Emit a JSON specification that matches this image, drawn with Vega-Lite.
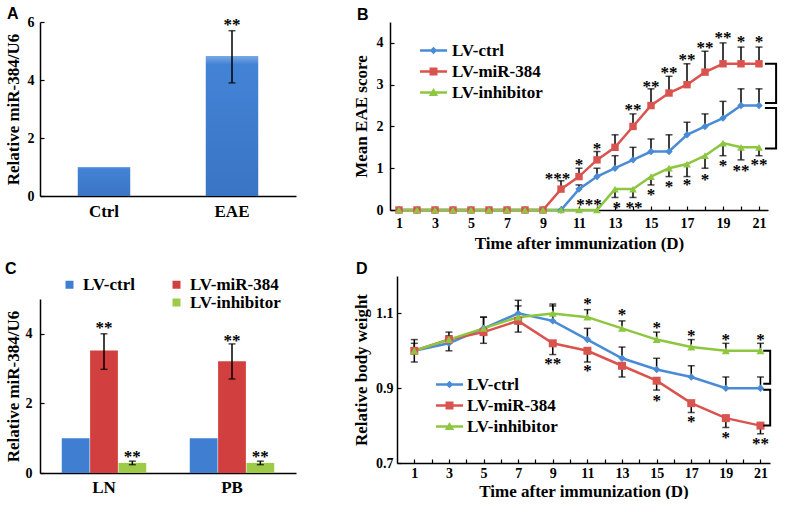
{
  "$schema": "https://vega.github.io/schema/vega-lite/v6.json",
  "background": "white",
  "padding": {"left": 4, "top": 6, "right": 0, "bottom": 0},
  "config": {
    "view": {"stroke": null},
    "font": "Liberation Serif",
    "axis": {"domainColor": "#000", "domainWidth": 1.5, "tickColor": "#000", "tickWidth": 1.2, "tickSize": -4, "labelFont": "Liberation Serif", "labelFontSize": 14, "labelFontWeight": "bold", "labelColor": "#000", "titleFont": "Liberation Serif", "titleFontSize": 17, "titleFontWeight": "bold", "titleColor": "#000", "grid": false, "labelFlush": false, "labelOverlap": false, "labelSeparation": -50},
    "legend": {"labelFont": "Liberation Serif", "labelFontSize": 17, "labelFontWeight": "bold", "labelColor": "#000", "padding": 0, "title": null},
    "title": {"font": "Liberation Sans", "fontSize": 16, "fontWeight": "bold", "color": "#000", "anchor": "start", "frame": "group"}
  },
  "columns": 2,
  "align": "none",
  "spacing": {"row": 10, "column": 56},
  "resolve": {"scale": {"color": "independent", "shape": "independent", "x": "independent", "y": "independent"}, "legend": {"color": "independent", "shape": "independent"}},
  "concat": [
    {
      "width": 256, "height": 174,
      "title": {"text": "A", "dx": -33, "offset": -7},
      "data": {"values": [
        {"group": "Ctrl", "value": 1.0, "lo": null, "hi": null, "star": null, "stary": null},
        {"group": "EAE", "value": 4.83, "lo": 3.9, "hi": 5.7, "star": "**", "stary": 6.0}
      ]},
      "encoding": {"x": {"field": "group", "type": "nominal", "sort": null, "scale": {"paddingInner": 0.59, "paddingOuter": 0.295}, "axis": {"title": null, "labelAngle": 0, "ticks": false, "labelFontSize": 17, "labelPadding": 7, "labelOverlap": false}}},
      "layer": [
        {"mark": {"type": "bar", "color": {"x1": 0, "y1": 0, "x2": 0, "y2": 1, "gradient": "linear", "stops": [{"offset": 0, "color": "#7aaae6"}, {"offset": 0.06, "color": "#4383d6"}, {"offset": 1, "color": "#3a74c4"}]}},
         "encoding": {"y": {"field": "value", "type": "quantitative", "scale": {"domain": [0, 6]}, "axis": {"title": "Relative miR-384/U6", "values": [0, 1, 2, 3, 4, 5, 6], "labelExpr": "datum.value % 2 == 0 ? datum.label : ''", "labelPadding": 10, "titlePadding": 5, "labelOverlap": false, "labelSeparation": -50}}}},
        {"transform": [{"filter": "datum.hi != null"}], "mark": {"type": "rule", "color": "#000", "strokeWidth": 1.5},
         "encoding": {"y": {"field": "lo", "type": "quantitative"}, "y2": {"field": "hi"}}},
        {"transform": [{"filter": "datum.hi != null"}], "mark": {"type": "tick", "orient": "horizontal", "color": "#000", "thickness": 1.5, "size": 7},
         "encoding": {"y": {"field": "lo", "type": "quantitative"}}},
        {"transform": [{"filter": "datum.hi != null"}], "mark": {"type": "tick", "orient": "horizontal", "color": "#000", "thickness": 1.5, "size": 7},
         "encoding": {"y": {"field": "hi", "type": "quantitative"}}},
        {"transform": [{"filter": "datum.star != null"}], "mark": {"type": "text", "font": "Liberation Serif", "fontSize": 17, "fontWeight": "bold", "baseline": "alphabetic", "dy": 8, "color": "#000"},
         "encoding": {"y": {"field": "stary", "type": "quantitative"}, "text": {"field": "star"}}}
      ]
    },
    {
      "width": 378, "height": 188,
      "title": {"text": "B", "dx": -33, "offset": -1},
      "encoding": {
        "x": {"field": "day", "type": "quantitative", "scale": {"domain": [0.5, 21.5], "nice": false}, "axis": {"title": "Time after immunization (D)", "values": [1,2,3,4,5,6,7,8,9,10,11,12,13,14,15,16,17,18,19,20,21], "labelExpr": "datum.value % 2 == 1 ? datum.label : ''", "labelPadding": 10, "titlePadding": 5, "labelOverlap": false, "labelSeparation": -50}}
      },
      "layer": [
        {
          "data": {"name": "B"},
          "mark": {"type": "line", "strokeWidth": 2.5},
          "encoding": {
            "y": {"field": "value", "type": "quantitative", "scale": {"domain": [0, 4.5], "nice": false}, "axis": {"title": "Mean EAE score", "values": [0,0.5,1,1.5,2,2.5,3,3.5,4,4.5], "labelExpr": "datum.value % 1 == 0 ? datum.label : ''", "labelPadding": 11, "titlePadding": 6, "labelOverlap": false, "labelSeparation": -50}},
            "color": {"field": "series", "type": "nominal", "scale": {"domain": ["LV-ctrl", "LV-miR-384", "LV-inhibitor"], "range": ["#4a8bd6", "#d9534f", "#8dc63f"]},
              "legend": {"orient": "none", "legendX": 35, "legendY": 20, "labelOffset": 10, "rowPadding": 3, "symbolSize": 289, "symbolOpacity": 1, "symbolStrokeWidth": 0}}
          }
        },
        {
          "data": {"name": "B"},
          "transform": [{"filter": "false"}],
          "mark": {"type": "point", "filled": true, "opacity": 1},
          "encoding": {
            "y": {"field": "value", "type": "quantitative"},
            "color": {"field": "series", "type": "nominal"},
            "shape": {"field": "series", "type": "nominal", "scale": {"domain": ["LV-ctrl", "LV-miR-384", "LV-inhibitor"], "range": ["M-1.59,-0.147H1.59V0.147H-1.59Z M0,-0.45L0.45,0L0,0.45L-0.45,0Z", "M-1.59,-0.147H1.59V0.147H-1.59Z M-0.47,-0.47H0.47V0.47H-0.47Z", "M-1.59,-0.147H1.59V0.147H-1.59Z M0,-0.52L0.55,0.42H-0.55Z"]}, "legend": null}
          }
        },
        {
          "data": {"name": "B"},
          "transform": [{"filter": "datum.err != null"}],
          "mark": {"type": "rule", "color": "#000", "strokeWidth": 1.5},
          "encoding": {"y": {"field": "value", "type": "quantitative"}, "y2": {"field": "err"}}
        },
        {
          "data": {"name": "B"},
          "transform": [{"filter": "datum.err != null"}],
          "mark": {"type": "tick", "orient": "horizontal", "color": "#000", "thickness": 1.5, "size": 7},
          "encoding": {"y": {"field": "err", "type": "quantitative"}}
        },
        {
          "data": {"name": "B"},
          "transform": [{"filter": "datum.series == 'LV-ctrl'"}],
          "mark": {"type": "point", "shape": "diamond", "filled": true, "opacity": 1, "size": 55, "color": "#4a8bd6"},
          "encoding": {"y": {"field": "value", "type": "quantitative"}}
        },
        {
          "data": {"name": "B"},
          "transform": [{"filter": "datum.series == 'LV-miR-384'"}],
          "mark": {"type": "point", "shape": "square", "filled": true, "opacity": 1, "size": 55, "color": "#d9534f"},
          "encoding": {"y": {"field": "value", "type": "quantitative"}}
        },
        {
          "data": {"name": "B"},
          "transform": [{"filter": "datum.series == 'LV-inhibitor'"}],
          "mark": {"type": "point", "shape": "triangle-up", "filled": true, "opacity": 1, "size": 60, "color": "#8dc63f"},
          "encoding": {"y": {"field": "value", "type": "quantitative"}}
        },
        {
          "data": {"name": "Bstars"},
          "mark": {"type": "text", "font": "Liberation Serif", "fontSize": 17, "fontWeight": "bold", "baseline": "alphabetic", "dy": 8, "color": "#000"},
          "encoding": {"x": {"field": "x", "type": "quantitative"}, "y": {"field": "y", "type": "quantitative"}, "text": {"field": "label"}}
        },
        {
          "data": {"name": "Bbr"},
          "mark": {"type": "line", "color": "#000", "strokeWidth": 2},
          "encoding": {"x": {"field": "x", "type": "quantitative"}, "y": {"field": "y", "type": "quantitative"}, "detail": {"field": "b"}, "order": {"field": "o"}}
        }
      ]
    },
    {
      "width": 256, "height": 174,
      "title": {"text": "C", "dx": -35, "offset": -1},
      "data": {"values": [
        {"group": "LN", "series": "LV-ctrl", "value": 1.0, "lo": null, "hi": null, "star": null, "stary": null},
        {"group": "LN", "series": "LV-miR-384", "value": 3.52, "lo": 2.98, "hi": 4.0, "star": "**", "stary": 4.24},
        {"group": "LN", "series": "LV-inhibitor", "value": 0.29, "lo": 0.24, "hi": 0.34, "star": "**", "stary": 0.55},
        {"group": "PB", "series": "LV-ctrl", "value": 1.0, "lo": null, "hi": null, "star": null, "stary": null},
        {"group": "PB", "series": "LV-miR-384", "value": 3.21, "lo": 2.7, "hi": 3.71, "star": "**", "stary": 3.88},
        {"group": "PB", "series": "LV-inhibitor", "value": 0.29, "lo": 0.24, "hi": 0.34, "star": "**", "stary": 0.55}
      ]},
      "encoding": {
        "x": {"field": "group", "type": "nominal", "sort": null, "scale": {"paddingInner": 0.34, "paddingOuter": 0.17}, "axis": {"title": null, "labelAngle": 0, "ticks": false, "labelFontSize": 17, "labelPadding": 6, "labelOverlap": false}},
        "xOffset": {"field": "series", "type": "nominal", "scale": {"domain": ["LV-ctrl", "LV-miR-384", "LV-inhibitor"], "paddingInner": 0.02}}
      },
      "layer": [
        {"mark": {"type": "bar"},
         "encoding": {
           "y": {"field": "value", "type": "quantitative", "scale": {"domain": [0, 5]}, "axis": {"title": "Relative miR-384/U6", "values": [0, 1, 2, 3, 4, 5], "labelExpr": "datum.value % 2 == 0 ? datum.label : ''", "labelPadding": 12, "titlePadding": 3, "labelOverlap": false, "labelSeparation": -50}},
           "color": {"field": "series", "type": "nominal", "scale": {"domain": ["LV-ctrl", " ", "LV-miR-384", "LV-inhibitor"], "range": ["#3f7ed1", "rgba(0,0,0,0)", "#d23f3f", "#9dcb48"]},
             "legend": {"orient": "none", "legendX": 21, "legendY": -23, "columns": 2, "columnPadding": 33, "rowPadding": 0, "symbolType": "square", "symbolSize": 64, "labelOffset": 5, "symbolStrokeWidth": 0}}
         }},
        {"transform": [{"filter": "datum.hi != null"}], "mark": {"type": "rule", "color": "#000", "strokeWidth": 1.5},
         "encoding": {"y": {"field": "lo", "type": "quantitative"}, "y2": {"field": "hi"}}},
        {"transform": [{"filter": "datum.hi != null"}], "mark": {"type": "tick", "orient": "horizontal", "color": "#000", "thickness": 1.5, "size": 7},
         "encoding": {"y": {"field": "lo", "type": "quantitative"}}},
        {"transform": [{"filter": "datum.hi != null"}], "mark": {"type": "tick", "orient": "horizontal", "color": "#000", "thickness": 1.5, "size": 7},
         "encoding": {"y": {"field": "hi", "type": "quantitative"}}},
        {"transform": [{"filter": "datum.star != null"}], "mark": {"type": "text", "font": "Liberation Serif", "fontSize": 17, "fontWeight": "bold", "baseline": "alphabetic", "dy": 8, "color": "#000"},
         "encoding": {"y": {"field": "stary", "type": "quantitative"}, "text": {"field": "star"}}}
      ]
    },
    {
      "width": 373, "height": 187,
      "title": {"text": "D", "dx": -41, "offset": -1},
      "encoding": {
        "x": {"field": "day", "type": "quantitative", "scale": {"domain": [0, 21.55], "nice": false}, "axis": {"title": "Time after immunization (D)", "values": [1,2,3,4,5,6,7,8,9,10,11,12,13,14,15,16,17,18,19,20,21], "labelExpr": "datum.value % 2 == 1 ? datum.label : ''", "labelPadding": 7, "titlePadding": 3, "labelOverlap": false, "labelSeparation": -50}}
      },
      "layer": [
        {
          "data": {"name": "D"},
          "mark": {"type": "line", "strokeWidth": 2.5},
          "encoding": {
            "y": {"field": "value", "type": "quantitative", "scale": {"domain": [0.7, 1.2], "nice": false, "zero": false}, "axis": {"title": "Relative body weight", "values": [0.7,0.75,0.8,0.85,0.9,0.95,1.0,1.05,1.1,1.15,1.2], "format": ".1f", "labelExpr": "abs(datum.value*10 - round(datum.value*10)) < 0.01 ? datum.label : ''", "labelPadding": 8, "titlePadding": 5, "labelOverlap": false, "labelSeparation": -50}},
            "color": {"field": "series", "type": "nominal", "scale": {"domain": ["LV-ctrl", "LV-miR-384", "LV-inhibitor"], "range": ["#4a8bd6", "#d9534f", "#8dc63f"]},
              "legend": {"orient": "none", "legendX": 44, "legendY": 100, "labelOffset": 9, "rowPadding": 3, "symbolSize": 289, "symbolOpacity": 1, "symbolStrokeWidth": 0}}
          }
        },
        {
          "data": {"name": "D"},
          "transform": [{"filter": "false"}],
          "mark": {"type": "point", "filled": true, "opacity": 1},
          "encoding": {
            "y": {"field": "value", "type": "quantitative"},
            "color": {"field": "series", "type": "nominal"},
            "shape": {"field": "series", "type": "nominal", "scale": {"domain": ["LV-ctrl", "LV-miR-384", "LV-inhibitor"], "range": ["M-1.59,-0.147H1.59V0.147H-1.59Z M0,-0.45L0.45,0L0,0.45L-0.45,0Z", "M-1.59,-0.147H1.59V0.147H-1.59Z M-0.47,-0.47H0.47V0.47H-0.47Z", "M-1.59,-0.147H1.59V0.147H-1.59Z M0,-0.52L0.55,0.42H-0.55Z"]}, "legend": null}
          }
        },
        {
          "data": {"name": "D"},
          "mark": {"type": "rule", "color": "#000", "strokeWidth": 1.5},
          "encoding": {"y": {"field": "value", "type": "quantitative"}, "y2": {"field": "err"}}
        },
        {
          "data": {"name": "D"},
          "mark": {"type": "tick", "orient": "horizontal", "color": "#000", "thickness": 1.5, "size": 7},
          "encoding": {"y": {"field": "err", "type": "quantitative"}}
        },
        {
          "data": {"name": "D"},
          "transform": [{"filter": "datum.series == 'LV-ctrl'"}],
          "mark": {"type": "point", "shape": "diamond", "filled": true, "opacity": 1, "size": 55, "color": "#4a8bd6"},
          "encoding": {"y": {"field": "value", "type": "quantitative"}}
        },
        {
          "data": {"name": "D"},
          "transform": [{"filter": "datum.series == 'LV-miR-384'"}],
          "mark": {"type": "point", "shape": "square", "filled": true, "opacity": 1, "size": 64, "color": "#d9534f"},
          "encoding": {"y": {"field": "value", "type": "quantitative"}}
        },
        {
          "data": {"name": "D"},
          "transform": [{"filter": "datum.series == 'LV-inhibitor'"}],
          "mark": {"type": "point", "shape": "triangle-up", "filled": true, "opacity": 1, "size": 64, "color": "#8dc63f"},
          "encoding": {"y": {"field": "value", "type": "quantitative"}}
        },
        {
          "data": {"name": "Dstars"},
          "mark": {"type": "text", "font": "Liberation Serif", "fontSize": 17, "fontWeight": "bold", "baseline": "alphabetic", "dy": 8, "color": "#000"},
          "encoding": {"x": {"field": "x", "type": "quantitative"}, "y": {"field": "y", "type": "quantitative"}, "text": {"field": "label"}}
        },
        {
          "data": {"name": "Dbr"},
          "mark": {"type": "line", "color": "#000", "strokeWidth": 2},
          "encoding": {"x": {"field": "x", "type": "quantitative"}, "y": {"field": "y", "type": "quantitative"}, "detail": {"field": "b"}, "order": {"field": "o"}}
        }
      ]
    }
  ],
  "datasets": {
    "B": [
      {"day": 1, "series": "LV-ctrl", "value": 0, "err": null}, {"day": 2, "series": "LV-ctrl", "value": 0, "err": null}, {"day": 3, "series": "LV-ctrl", "value": 0, "err": null}, {"day": 4, "series": "LV-ctrl", "value": 0, "err": null}, {"day": 5, "series": "LV-ctrl", "value": 0, "err": null}, {"day": 6, "series": "LV-ctrl", "value": 0, "err": null}, {"day": 7, "series": "LV-ctrl", "value": 0, "err": null}, {"day": 8, "series": "LV-ctrl", "value": 0, "err": null}, {"day": 9, "series": "LV-ctrl", "value": 0, "err": null}, {"day": 10, "series": "LV-ctrl", "value": 0, "err": null},
      {"day": 11, "series": "LV-ctrl", "value": 0.5, "err": 0.6}, {"day": 12, "series": "LV-ctrl", "value": 0.8, "err": 1.0}, {"day": 13, "series": "LV-ctrl", "value": 1.0, "err": 1.3}, {"day": 14, "series": "LV-ctrl", "value": 1.2, "err": 1.5}, {"day": 15, "series": "LV-ctrl", "value": 1.4, "err": 1.7}, {"day": 16, "series": "LV-ctrl", "value": 1.4, "err": 1.8}, {"day": 17, "series": "LV-ctrl", "value": 1.8, "err": 2.1}, {"day": 18, "series": "LV-ctrl", "value": 2.0, "err": 2.3}, {"day": 19, "series": "LV-ctrl", "value": 2.2, "err": 2.6}, {"day": 20, "series": "LV-ctrl", "value": 2.5, "err": 2.9}, {"day": 21, "series": "LV-ctrl", "value": 2.5, "err": 2.9},
      {"day": 1, "series": "LV-miR-384", "value": 0, "err": null}, {"day": 2, "series": "LV-miR-384", "value": 0, "err": null}, {"day": 3, "series": "LV-miR-384", "value": 0, "err": null}, {"day": 4, "series": "LV-miR-384", "value": 0, "err": null}, {"day": 5, "series": "LV-miR-384", "value": 0, "err": null}, {"day": 6, "series": "LV-miR-384", "value": 0, "err": null}, {"day": 7, "series": "LV-miR-384", "value": 0, "err": null}, {"day": 8, "series": "LV-miR-384", "value": 0, "err": null}, {"day": 9, "series": "LV-miR-384", "value": 0, "err": null},
      {"day": 10, "series": "LV-miR-384", "value": 0.5, "err": 0.7}, {"day": 11, "series": "LV-miR-384", "value": 0.8, "err": 1.0}, {"day": 12, "series": "LV-miR-384", "value": 1.2, "err": 1.4}, {"day": 13, "series": "LV-miR-384", "value": 1.5, "err": 1.8}, {"day": 14, "series": "LV-miR-384", "value": 2.0, "err": 2.3}, {"day": 15, "series": "LV-miR-384", "value": 2.5, "err": 2.9}, {"day": 16, "series": "LV-miR-384", "value": 2.8, "err": 3.2}, {"day": 17, "series": "LV-miR-384", "value": 3.0, "err": 3.5}, {"day": 18, "series": "LV-miR-384", "value": 3.3, "err": 3.8}, {"day": 19, "series": "LV-miR-384", "value": 3.5, "err": 4.0}, {"day": 20, "series": "LV-miR-384", "value": 3.5, "err": 3.9}, {"day": 21, "series": "LV-miR-384", "value": 3.5, "err": 3.9},
      {"day": 1, "series": "LV-inhibitor", "value": 0, "err": null}, {"day": 2, "series": "LV-inhibitor", "value": 0, "err": null}, {"day": 3, "series": "LV-inhibitor", "value": 0, "err": null}, {"day": 4, "series": "LV-inhibitor", "value": 0, "err": null}, {"day": 5, "series": "LV-inhibitor", "value": 0, "err": null}, {"day": 6, "series": "LV-inhibitor", "value": 0, "err": null}, {"day": 7, "series": "LV-inhibitor", "value": 0, "err": null}, {"day": 8, "series": "LV-inhibitor", "value": 0, "err": null}, {"day": 9, "series": "LV-inhibitor", "value": 0, "err": null}, {"day": 10, "series": "LV-inhibitor", "value": 0, "err": null}, {"day": 11, "series": "LV-inhibitor", "value": 0, "err": null}, {"day": 12, "series": "LV-inhibitor", "value": 0, "err": null},
      {"day": 13, "series": "LV-inhibitor", "value": 0.5, "err": 0.3}, {"day": 14, "series": "LV-inhibitor", "value": 0.5, "err": 0.3}, {"day": 15, "series": "LV-inhibitor", "value": 0.8, "err": 0.6}, {"day": 16, "series": "LV-inhibitor", "value": 1.0, "err": 0.8}, {"day": 17, "series": "LV-inhibitor", "value": 1.1, "err": 0.8}, {"day": 18, "series": "LV-inhibitor", "value": 1.3, "err": 1.0}, {"day": 19, "series": "LV-inhibitor", "value": 1.6, "err": 1.3}, {"day": 20, "series": "LV-inhibitor", "value": 1.5, "err": 1.2}, {"day": 21, "series": "LV-inhibitor", "value": 1.5, "err": 1.3}
    ],
    "Bstars": [
      {"x": 9.8, "y": 0.82, "label": "***"}, {"x": 11, "y": 1.14, "label": "*"}, {"x": 12, "y": 1.54, "label": "*"}, {"x": 14, "y": 2.46, "label": "**"}, {"x": 15, "y": 3.02, "label": "**"}, {"x": 16, "y": 3.34, "label": "**"}, {"x": 17, "y": 3.66, "label": "**"}, {"x": 18, "y": 3.94, "label": "**"}, {"x": 19, "y": 4.18, "label": "**"}, {"x": 20, "y": 4.1, "label": "*"}, {"x": 21, "y": 4.1, "label": "*"},
      {"x": 11.55, "y": 0.18, "label": "***"}, {"x": 13.1, "y": 0.13, "label": "*"}, {"x": 14.05, "y": 0.13, "label": "**"}, {"x": 15, "y": 0.42, "label": "*"}, {"x": 16, "y": 0.62, "label": "*"}, {"x": 17, "y": 0.66, "label": "*"}, {"x": 18, "y": 0.8, "label": "*"}, {"x": 19, "y": 1.12, "label": "*"}, {"x": 20, "y": 1.01, "label": "**"}, {"x": 21, "y": 1.14, "label": "**"}
    ],
    "Bbr": [
      {"b": 1, "o": 1, "x": 21.33, "y": 3.5}, {"b": 1, "o": 2, "x": 21.95, "y": 3.5}, {"b": 1, "o": 3, "x": 21.95, "y": 2.56}, {"b": 1, "o": 4, "x": 21.33, "y": 2.56},
      {"b": 2, "o": 1, "x": 21.33, "y": 2.44}, {"b": 2, "o": 2, "x": 21.95, "y": 2.44}, {"b": 2, "o": 3, "x": 21.95, "y": 1.47}, {"b": 2, "o": 4, "x": 21.33, "y": 1.47}
    ],
    "D": [
      {"day": 1, "series": "LV-ctrl", "value": 1.0, "err": 1.03}, {"day": 3, "series": "LV-ctrl", "value": 1.02, "err": 1.04}, {"day": 5, "series": "LV-ctrl", "value": 1.06, "err": 1.09}, {"day": 7, "series": "LV-ctrl", "value": 1.1, "err": 1.135}, {"day": 9, "series": "LV-ctrl", "value": 1.08, "err": 1.12}, {"day": 11, "series": "LV-ctrl", "value": 1.03, "err": 1.06}, {"day": 13, "series": "LV-ctrl", "value": 0.98, "err": 1.01}, {"day": 15, "series": "LV-ctrl", "value": 0.95, "err": 0.98}, {"day": 17, "series": "LV-ctrl", "value": 0.93, "err": 0.96}, {"day": 19, "series": "LV-ctrl", "value": 0.9, "err": 0.93}, {"day": 21, "series": "LV-ctrl", "value": 0.9, "err": 0.93},
      {"day": 1, "series": "LV-miR-384", "value": 1.0, "err": 0.97}, {"day": 3, "series": "LV-miR-384", "value": 1.03, "err": 1.0}, {"day": 5, "series": "LV-miR-384", "value": 1.05, "err": 1.02}, {"day": 7, "series": "LV-miR-384", "value": 1.08, "err": 1.05}, {"day": 9, "series": "LV-miR-384", "value": 1.02, "err": 0.99}, {"day": 11, "series": "LV-miR-384", "value": 1.0, "err": 0.97}, {"day": 13, "series": "LV-miR-384", "value": 0.96, "err": 0.93}, {"day": 15, "series": "LV-miR-384", "value": 0.92, "err": 0.895}, {"day": 17, "series": "LV-miR-384", "value": 0.86, "err": 0.835}, {"day": 19, "series": "LV-miR-384", "value": 0.82, "err": 0.795}, {"day": 21, "series": "LV-miR-384", "value": 0.8, "err": 0.778},
      {"day": 1, "series": "LV-inhibitor", "value": 1.0, "err": 1.02}, {"day": 3, "series": "LV-inhibitor", "value": 1.03, "err": 1.05}, {"day": 5, "series": "LV-inhibitor", "value": 1.06, "err": 1.09}, {"day": 7, "series": "LV-inhibitor", "value": 1.09, "err": 1.12}, {"day": 9, "series": "LV-inhibitor", "value": 1.1, "err": 1.125}, {"day": 11, "series": "LV-inhibitor", "value": 1.09, "err": 1.11}, {"day": 13, "series": "LV-inhibitor", "value": 1.06, "err": 1.08}, {"day": 15, "series": "LV-inhibitor", "value": 1.03, "err": 1.05}, {"day": 17, "series": "LV-inhibitor", "value": 1.01, "err": 1.03}, {"day": 19, "series": "LV-inhibitor", "value": 1.0, "err": 1.02}, {"day": 21, "series": "LV-inhibitor", "value": 1.0, "err": 1.02}
    ],
    "Dstars": [
      {"x": 11, "y": 1.133, "label": "*"}, {"x": 13, "y": 1.104, "label": "*"}, {"x": 15, "y": 1.068, "label": "*"}, {"x": 17, "y": 1.047, "label": "*"}, {"x": 19, "y": 1.037, "label": "*"}, {"x": 21, "y": 1.037, "label": "*"},
      {"x": 9, "y": 0.974, "label": "**"}, {"x": 11, "y": 0.954, "label": "*"}, {"x": 15, "y": 0.874, "label": "*"}, {"x": 17, "y": 0.818, "label": "*"}, {"x": 19, "y": 0.776, "label": "*"}, {"x": 21, "y": 0.76, "label": "**"}
    ],
    "Dbr": [
      {"b": 1, "o": 1, "x": 21.16, "y": 1.0}, {"b": 1, "o": 2, "x": 21.56, "y": 1.0}, {"b": 1, "o": 3, "x": 21.56, "y": 0.912}, {"b": 1, "o": 4, "x": 21.16, "y": 0.912},
      {"b": 2, "o": 1, "x": 21.16, "y": 0.896}, {"b": 2, "o": 2, "x": 21.56, "y": 0.896}, {"b": 2, "o": 3, "x": 21.56, "y": 0.8}, {"b": 2, "o": 4, "x": 21.16, "y": 0.8}
    ]
  }
}
